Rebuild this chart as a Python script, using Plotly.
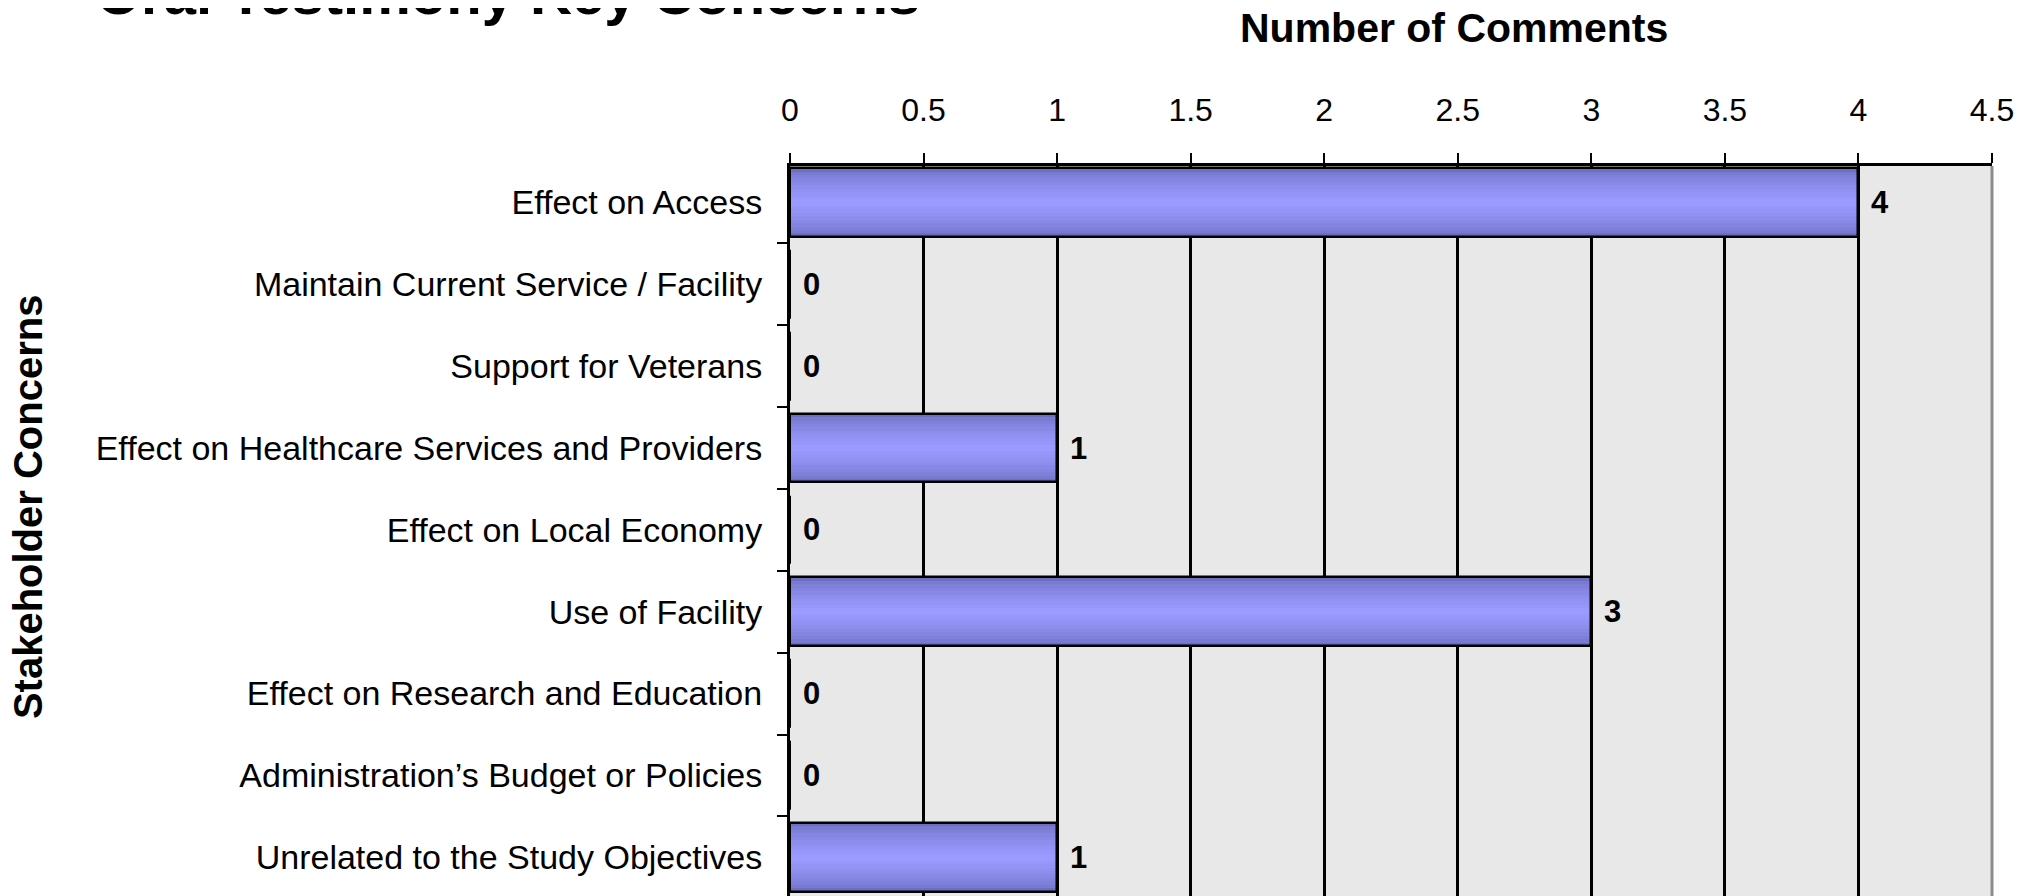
import plotly.graph_objects as go

# ---- data ----
categories = [
    "Effect on Access",
    "Maintain Current Service / Facility",
    "Support for Veterans",
    "Effect on Healthcare Services and Providers",
    "Effect on Local Economy",
    "Use of Facility",
    "Effect on Research and Education",
    "Administration\u2019s Budget or Policies",
    "Unrelated to the Study Objectives",
]
comments = [4, 0, 0, 1, 0, 3, 0, 0, 1]
x_ticks = [0, 0.5, 1, 1.5, 2, 2.5, 3, 3.5, 4, 4.5]
x_tick_text = ["0", "0.5", "1", "1.5", "2", "2.5", "3", "3.5", "4", "4.5"]

title_text = "Oral Testimony Key Concerns"
x_title = "Number of Comments"
y_title = "Stakeholder Concerns"

FONT = "Liberation Sans, Arial, sans-serif"
BAR_W = 0.84
EDGE = (108, 111, 192)
CENTER = (154, 154, 255)
N_LAYERS = 10

fig = go.Figure()

# gradient bars (stacked layers of decreasing thickness)
for k in range(N_LAYERS):
    t = (k / (N_LAYERS - 1)) ** 0.6
    c = tuple(round(EDGE[i] + (CENTER[i] - EDGE[i]) * t) for i in range(3))
    fig.add_trace(go.Bar(
        orientation="h",
        y=categories,
        x=comments,
        width=BAR_W * (1 - k / N_LAYERS),
        marker=dict(color="rgb(%d,%d,%d)" % c, line=dict(width=0)),
        hoverinfo="skip",
        showlegend=False,
    ))

# outline
fig.add_trace(go.Bar(
    orientation="h",
    y=categories,
    x=comments,
    width=BAR_W,
    marker=dict(color="rgba(0,0,0,0)", line=dict(color="black", width=2.5)),
    showlegend=False,
))

# value labels
for cat, v in zip(categories, comments):
    fig.add_annotation(
        x=v, y=cat, xref="x", yref="y",
        text="<b>%d</b>" % v, showarrow=False,
        xanchor="left", yanchor="middle", xshift=11,
        font=dict(family=FONT, size=31, color="black"),
    )

# titles as annotations
fig.add_annotation(
    xref="paper", yref="paper", x=-0.579, y=1.189,
    xanchor="left", yanchor="bottom", showarrow=False,
    text="<b>%s</b>" % title_text,
    font=dict(family=FONT, size=58, color="black"),
)
fig.add_annotation(
    xref="paper", yref="paper", x=0.552, y=1.189,
    xanchor="center", yanchor="middle", showarrow=False,
    text="<b>%s</b>" % x_title,
    font=dict(family=FONT, size=41, color="black"),
)
fig.add_annotation(
    xref="paper", yref="paper", x=-0.634, y=0.534,
    xanchor="center", yanchor="middle", showarrow=False,
    textangle=-90,
    text="<b>%s</b>" % y_title,
    font=dict(family=FONT, size=40, color="black"),
)

# right border
fig.add_shape(type="line", xref="paper", yref="paper", x0=1, x1=1, y0=0, y1=1,
              line=dict(color="#8c8c8c", width=3))

fig.update_layout(
    width=2026, height=888,
    margin=dict(l=782, r=42, t=158, b=0, pad=0),
    paper_bgcolor="white",
    plot_bgcolor="#e8e8e8",
    barmode="overlay",
    bargap=0,
    font=dict(family=FONT, color="black"),
    showlegend=False,
)
fig.update_xaxes(
    side="top",
    range=[0, 4.5], autorange=False,
    tickmode="array", tickvals=x_ticks, ticktext=x_tick_text,
    ticks="outside", ticklen=10, tickwidth=2, tickcolor="black",
    showline=True, linecolor="black", linewidth=3,
    showgrid=True, gridcolor="black", gridwidth=2.5,
    zeroline=False,
    tickfont=dict(family=FONT, size=32, color="black"),
    ticklabelstandoff=19,
)
fig.update_yaxes(
    type="category",
    categoryorder="array", categoryarray=categories,
    range=[8.473, -0.446], autorange=False,
    ticks="outside", ticklen=10, tickwidth=2, tickcolor="black",
    tickson="boundaries",
    showline=True, linecolor="black", linewidth=3,
    showgrid=False, zeroline=False,
    tickfont=dict(family=FONT, size=34, color="black"),
    ticklabelstandoff=18,
)

fig.write_html("out.html")
